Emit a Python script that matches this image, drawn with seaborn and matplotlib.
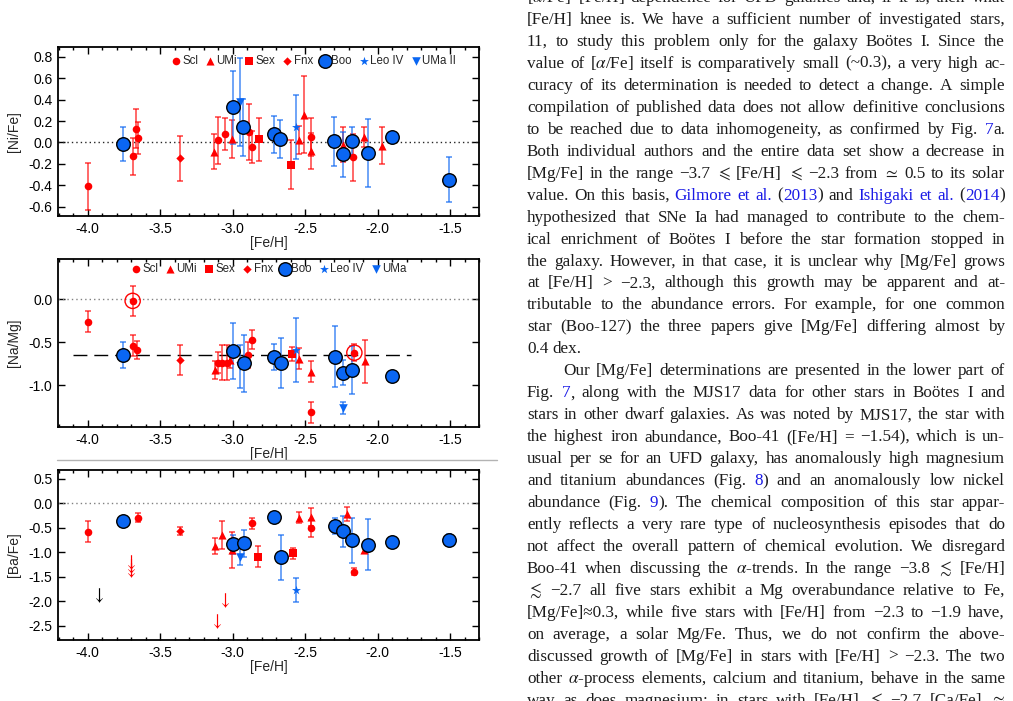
import re

import matplotlib
matplotlib.use("Agg")
from matplotlib import pyplot as plt
from matplotlib.lines import Line2D
from matplotlib.ticker import MultipleLocator, FormatStrFormatter
import seaborn as sns

W, H = 1013, 701

# rows are ([Fe/H], value, error)
# panel a: [Ni/Fe]
NI_SCL = [(-4.00, -0.41, 0.22), (-3.69, -0.13, 0.17), (-3.67, 0.13, 0.18), (-3.655, 0.04, 0.15),
          (-3.10, 0.02, 0.22), (-3.05, 0.08, 0.15), (-2.89, 0.10, 0.26), (-2.865, -0.04, 0.15),
          (-2.46, 0.05, 0.18), (-2.17, -0.14, 0.22)]
NI_UMI = [(-3.13, -0.085, 0.16), (-3.005, 0.03, 0.18), (-2.54, 0.02, 0.13), (-2.505, 0.26, 0.36),
          (-2.46, -0.08, 0.17), (-2.235, -0.02, 0.16), (-2.095, 0.05, 0.09), (-1.97, -0.03, 0.17)]
NI_SEX = [(-2.82, 0.03, 0.20), (-2.60, -0.21, 0.23)]
NI_FNX = [(-3.36, -0.15, 0.21)]
NI_BOO = [(-3.755, -0.015, 0.16), (-3.00, 0.33, 0.34), (-2.93, 0.14, 0.27), (-2.715, 0.075, 0.17),
          (-2.675, 0.03, 0.18), (-2.30, 0.01, 0.23), (-2.235, -0.11, 0.21), (-2.175, 0.01, 0.13),
          (-2.065, -0.10, 0.32), (-1.90, 0.05, 0.05), (-1.505, -0.35, 0.21)]
NI_LEO = [(-2.56, 0.147, 0.30)]
NI_UMA = [(-2.95, 0.38, 0.41)]

# panel b: [Na/Mg]
NA_SCL = [(-4.00, -0.26, 0.12), (-3.69, -0.02, 0.17), (-3.687, -0.54, 0.12), (-3.66, -0.59, 0.10),
          (-3.10, -0.735, 0.12), (-3.075, -0.735, 0.20), (-3.04, -0.735, 0.20), (-2.895, -0.645, 0.15),
          (-2.865, -0.47, 0.11), (-2.46, -1.31, 0.12), (-2.16, -0.62, 0.10)]
NA_RING = [(-3.69, -0.02), (-2.16, -0.62)]
NA_UMI = [(-3.125, -0.82, 0.10), (-3.02, -0.70, 0.10), (-2.54, -0.69, 0.12), (-2.46, -0.84, 0.12),
          (-2.09, -0.72, 0.25)]
NA_SEX = [(-2.59, -0.64, 0.08)]
NA_FNX = [(-3.36, -0.705, 0.17)]
NA_BOO = [(-3.755, -0.65, 0.15), (-2.995, -0.60, 0.32), (-2.92, -0.745, 0.33), (-2.715, -0.665, 0.15),
          (-2.665, -0.745, 0.29), (-2.295, -0.665, 0.35), (-2.235, -0.85, 0.14), (-2.175, -0.82, 0.28),
          (-1.90, -0.89, 0.0)]
NA_LEO = [(-2.565, -0.59, 0.37)]
NA_UMA = [(-2.95, -0.78, 0.25), (-2.235, -1.26, 0.07)]
NA_MEAN = -0.65
NA_MEAN_RANGE = (-4.10, -1.77)

# panel c: [Ba/Fe]
BA_SCL = [(-4.00, -0.58, 0.22), (-3.655, -0.29, 0.10), (-2.865, -0.41, 0.12), (-2.46, -0.51, 0.17),
          (-2.165, -1.40, 0.07)]
BA_UMI = [(-3.125, -0.87, 0.17), (-3.075, -0.65, 0.29), (-3.005, -0.95, 0.37), (-2.54, -0.29, 0.11),
          (-2.46, -0.28, 0.18), (-2.21, -0.22, 0.15), (-2.095, -0.95, 0.0)]
BA_SEX = [(-2.825, -1.09, 0.21), (-2.585, -1.02, 0.11)]
BA_FNX = [(-3.36, -0.56, 0.08)]
BA_BOO = [(-3.755, -0.36, 0.0), (-2.995, -0.84, 0.20), (-2.925, -0.82, 0.27), (-2.715, -0.27, 0.0),
          (-2.665, -1.10, 0.46), (-2.295, -0.46, 0.16), (-2.235, -0.57, 0.32), (-2.175, -0.76, 0.46),
          (-2.065, -0.85, 0.52), (-1.90, -0.80, 0.0), (-1.505, -0.74, 0.12)]
BA_LEO = [(-2.565, -1.77, 0.24)]
BA_UMA = [(-2.95, -1.09, 0.18)]
BA_LIM_RED = [(-3.70, -1.20), (-3.70, -1.29), (-3.70, -1.37), (-3.05, -1.98), (-3.105, -2.40)]
BA_LIM_BLACK = [(-3.92, -1.88)]

RED = "#ff0000"
BLUE = "#0a66f2"
# name, marker, colour, size
GROUPS = [("Scl", "o", RED, 30), ("UMi", "^", RED, 34), ("Sex", "s", RED, 26), ("Fnx", "D", RED, 18),
          ("Boo", "o", BLUE, 95), ("Leo IV", "*", BLUE, 45), ("UMa II", "v", BLUE, 38)]

TEXT_LINES = [
    "[$\\alpha$/Fe]–[Fe/H] dependence for UFD galaxies and, if it is, then what",
    "[Fe/H] knee is. We have a sufficient number of investigated stars,",
    "11, to study this problem only for the galaxy Boötes I. Since the",
    "value of [$\\alpha$/Fe] itself is comparatively small (~0.3), a very high ac-",
    "curacy of its determination is needed to detect a change. A simple",
    "compilation of published data does not allow definitive conclusions",
    "to be reached due to data inhomogeneity, as confirmed by Fig. {7}a.",
    "Both individual authors and the entire data set show a decrease in",
    "[Mg/Fe] in the range −3.7 $\\leqslant$ [Fe/H] $\\leqslant$ −2.3 from $\\simeq$ 0.5 to its solar",
    "value. On this basis, {Gilmore} {et} {al.} ({2013}) and {Ishigaki} {et} {al.} ({2014})",
    "hypothesized that SNe Ia had managed to contribute to the chem-",
    "ical enrichment of Boötes I before the star formation stopped in",
    "the galaxy. However, in that case, it is unclear why [Mg/Fe] grows",
    "at [Fe/H] > −2.3, although this growth may be apparent and at-",
    "tributable to the abundance errors. For example, for one common",
    "star (Boo-127) the three papers give [Mg/Fe] differing almost by",
    "0.4 dex.",
    "Our [Mg/Fe] determinations are presented in the lower part of",
    "Fig. {7}, along with the MJS17 data for other stars in Boötes I and",
    "stars in other dwarf galaxies. As was noted by MJS17, the star with",
    "the highest iron abundance, Boo-41 ([Fe/H] = −1.54), which is un-",
    "usual per se for an UFD galaxy, has anomalously high magnesium",
    "and titanium abundances (Fig. {8}) and an anomalously low nickel",
    "abundance (Fig. {9}). The chemical composition of this star appar-",
    "ently reflects a very rare type of nucleosynthesis episodes that do",
    "not affect the overall pattern of chemical evolution. We disregard",
    "Boo-41 when discussing the $\\alpha$-trends. In the range −3.8 $\\lesssim$ [Fe/H]",
    "$\\lesssim$ −2.7 all five stars exhibit a Mg overabundance relative to Fe,",
    "[Mg/Fe]≈0.3, while five stars with [Fe/H] from −2.3 to −1.9 have,",
    "on average, a solar Mg/Fe. Thus, we do not confirm the above-",
    "discussed growth of [Mg/Fe] in stars with [Fe/H] > −2.3. The two",
    "other $\\alpha$-process elements, calcium and titanium, behave in the same",
    "way as does magnesium: in stars with [Fe/H] $\\lesssim$ −2.7 [Ca/Fe] $\\approx$",
]
PARAGRAPH_END = {16}
INDENTED = {17}

sns.set_theme(style="ticks")
plt.rcParams["font.family"] = ["Liberation Sans", "DejaVu Sans"]
plt.rcParams["mathtext.fontset"] = "stix"
plt.rcParams["axes.unicode_minus"] = False

TEXT_SIZE = 12.3
INK = "#1c1c1c"
LINK = "#1a1ae6"


def cols(rows):
    return [list(c) for c in zip(*rows)]


def draw_panel(ax, groups_data, ylim, ystep, ylabel, zero_color):
    for (name, marker, color, size), rows in zip(GROUPS, groups_data):
        if not rows:
            continue
        x, y, e = cols(rows)
        with_err = [r for r in rows if r[2] > 0]
        if with_err:
            ex, ey, ee = cols(with_err)
            ax.errorbar(ex, ey, yerr=ee, fmt="none", ecolor=color, alpha=0.75,
                        elinewidth=1.1, capsize=2, capthick=1.1, zorder=2)
        boo = name == "Boo"
        sns.scatterplot(x=x, y=y, marker=marker, s=size, color=color,
                        edgecolor="black" if boo else color, linewidth=1.0 if boo else 0,
                        label=name, ax=ax, zorder=4 if boo else 3, legend=False)
    ax.axhline(0, color=zero_color, lw=1.0, ls=(0, (1, 2.2)), zorder=1)
    ax.set_xlim(-4.205, -1.30)
    ax.set_ylim(*ylim)
    ax.xaxis.set_major_locator(MultipleLocator(0.5))
    ax.xaxis.set_minor_locator(MultipleLocator(0.1))
    ax.yaxis.set_major_locator(MultipleLocator(ystep))
    ax.xaxis.set_major_formatter(FormatStrFormatter("%.1f"))
    ax.yaxis.set_major_formatter(FormatStrFormatter("%.1f"))
    ax.tick_params(which="both", direction="in", top=True, right=True, labelsize=10,
                   colors="black", width=1.0, pad=4)
    ax.tick_params(which="major", length=5)
    ax.tick_params(which="minor", length=2.5)
    for sp in ax.spines.values():
        sp.set_linewidth(1.3)
        sp.set_color("black")
    ax.set_xlabel("[Fe/H]", fontsize=10, labelpad=0)
    ax.set_ylabel(ylabel, fontsize=10)
    ax.yaxis.set_label_coords(-0.088, 0.5)


def panel_legend(ax, labels, bx, by):
    handles, _ = ax.get_legend_handles_labels()
    ax.legend(handles, labels, loc="upper left", bbox_to_anchor=(bx, by), ncol=7, frameon=False,
              fontsize=8.3, handletextpad=0.05, columnspacing=0.55, borderaxespad=0,
              borderpad=0, handlelength=1.0, scatterpoints=1)


def word_segments(word):
    segs = []
    for part in re.split(r"(\{[^}]*\})", word):
        if not part:
            continue
        if part.startswith("{"):
            segs.append((part[1:-1], LINK))
        else:
            segs.append((part, INK))
    return segs


def put_line(fig, renderer, text, y, x0, x1, justify):
    boxes = []
    for word in text.split(" "):
        row = []
        for seg, color in word_segments(word):
            t = fig.text(0, 0, seg, fontsize=TEXT_SIZE, family="Liberation Serif",
                         color=color, va="baseline", ha="left")
            row.append((t, t.get_window_extent(renderer).width))
        boxes.append(row)
    total = sum(w for row in boxes for _, w in row)
    space = 0.25 * TEXT_SIZE * 100 / 72
    if justify and len(boxes) > 1:
        space = max((x1 - x0 - total) / (len(boxes) - 1), 2.0)
    x = x0
    for row in boxes:
        for t, w in row:
            t.set_position((x / W, 1 - y / H))
            x += w
        x += space


fig = plt.figure(figsize=(W / 100, H / 100), dpi=100)
left, width = 58 / W, 421 / W
ax1 = fig.add_axes([left, 1 - 216 / H, width, 169 / H])
ax2 = fig.add_axes([left, 1 - 427 / H, width, 168 / H])
ax3 = fig.add_axes([left, 1 - 640 / H, width, 170 / H])

draw_panel(ax1, [NI_SCL, NI_UMI, NI_SEX, NI_FNX, NI_BOO, NI_LEO, NI_UMA],
           (-0.688, 0.893), 0.2, "[Ni/Fe]", "0.15")
panel_legend(ax1, [g[0] for g in GROUPS], 0.266, 0.95)

draw_panel(ax2, [NA_SCL, NA_UMI, NA_SEX, NA_FNX, NA_BOO, NA_LEO, NA_UMA],
           (-1.481, 0.465), 0.5, "[Na/Mg]", "0.5")
rx, ry = cols(NA_RING)
ax2.scatter(rx, ry, s=120, facecolors="none", edgecolors=RED, linewidths=1.0, zorder=3)
ax2.hlines(NA_MEAN, *NA_MEAN_RANGE, colors="black", lw=1.0, linestyles=(0, (10, 5)), zorder=1)
panel_legend(ax2, [g[0] for g in GROUPS[:-1]] + ["UMa"], 0.171, 0.975)

# panel c has no legend; upper limits drawn as down arrows
draw_panel(ax3, [BA_SCL, BA_UMI, BA_SEX, BA_FNX, BA_BOO, BA_LEO, BA_UMA],
           (-2.794, 0.681), 0.5, "[Ba/Fe]", "0.5")
lx, ly = cols(BA_LIM_RED)
sns.scatterplot(x=lx, y=ly, marker="$\\downarrow$", s=110, color=RED, linewidth=0,
                ax=ax3, zorder=3, legend=False)
lx, ly = cols(BA_LIM_BLACK)
sns.scatterplot(x=lx, y=ly, marker="$\\downarrow$", s=110, color="black", linewidth=0,
                ax=ax3, zorder=3, legend=False)
if ax3.get_legend() is not None:
    ax3.get_legend().remove()

fig.add_artist(Line2D([57 / W, 497 / W], [1 - 460 / H] * 2, transform=fig.transFigure,
                      color="0.7", lw=1.0))

renderer = fig.canvas.get_renderer()
for i, line in enumerate(TEXT_LINES):
    y = -3.0 + 21.96 * i + 5
    x0 = 563 if i in INDENTED else 527
    put_line(fig, renderer, line, y, x0, 1005, i not in PARAGRAPH_END)

fig.savefig("out.png", dpi=100)
